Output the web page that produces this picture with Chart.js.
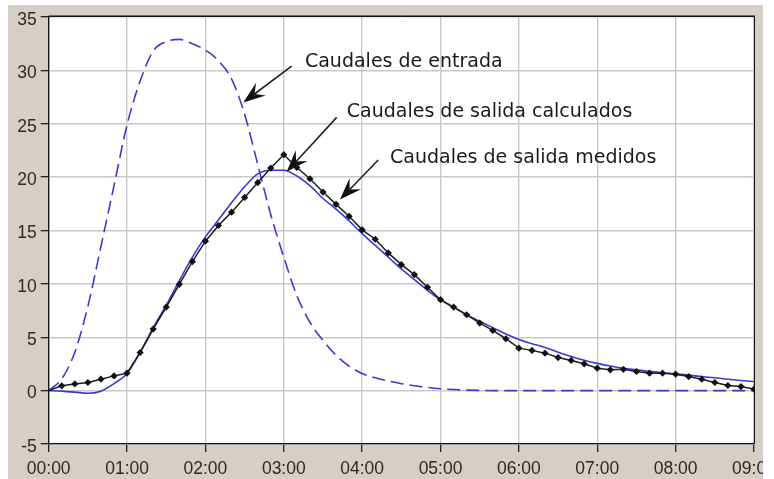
<!DOCTYPE html>
<html>
<head>
<meta charset="utf-8">
<script src="https://cdn.jsdelivr.net/npm/chart.js@4.4.1/dist/chart.umd.min.js"></script>
<style>
  html, body { margin: 0; padding: 0; background: #ffffff; width: 774px; height: 479px; overflow: hidden; }
  #panel { position: absolute; left: 8px; top: 5px; width: 755px; height: 474px; background: #d4d0c8; }
  #c { display: block; }
</style>
</head>
<body>
<div id="panel"><canvas id="c" width="755" height="474"></canvas></div>
<script>
// ---- Data ----
const times = [
  '00:00','00:10','00:20','00:30','00:40','00:50',
  '01:00','01:10','01:20','01:30','01:40','01:50',
  '02:00','02:10','02:20','02:30','02:40','02:50',
  '03:00','03:10','03:20','03:30','03:40','03:50',
  '04:00','04:10','04:20','04:30','04:40','04:50',
  '05:00','05:10','05:20','05:30','05:40','05:50',
  '06:00','06:10','06:20','06:30','06:40','06:50',
  '07:00','07:10','07:20','07:30','07:40','07:50',
  '08:00','08:10','08:20','08:30','08:40','08:50',
  '09:00'
];
const caudalesEntrada = [
  0, 1.1, 3.6, 7.9, 13.5, 19.2,
  24.9, 29.0, 31.8, 32.7, 32.9, 32.5,
  31.9, 30.9, 29.2, 25.9, 21.2, 16.5,
  12.5, 8.9, 6.4, 4.7, 3.3, 2.3,
  1.6, 1.2, 0.9, 0.65, 0.45, 0.3,
  0.18, 0.1, 0.05, 0.02, 0, 0,
  0, 0, 0, 0, 0, 0,
  0, 0, 0, 0, 0, 0,
  0, 0, 0, 0, 0, 0,
  0
];
const caudalesCalculados = [
  0, -0.05, -0.14, -0.25, -0.05, 0.65,
  1.6, 3.6, 5.9, 8.0, 10.3, 12.5,
  14.4, 16.0, 17.6, 19.1, 20.3, 20.65,
  20.65, 20.1, 19.2, 18.0, 17.0, 15.9,
  14.7, 13.6, 12.5, 11.4, 10.4, 9.4,
  8.5, 7.8, 7.1, 6.5, 5.9, 5.3,
  4.8, 4.4, 4.05, 3.6, 3.2, 2.85,
  2.55, 2.3, 2.1, 1.95, 1.8, 1.68,
  1.57, 1.45, 1.32, 1.2, 1.07, 0.95,
  0.85
];
const caudalesMedidos = [
  0, 0.45, 0.63, 0.76, 1.07, 1.38,
  1.64, 3.57, 5.77, 7.83, 9.96, 12.09,
  14.0, 15.47, 16.72, 18.1, 19.48, 20.85,
  22.1, 20.9, 19.85, 18.6, 17.45, 16.33,
  15.06, 14.18, 12.9, 11.8, 10.87, 9.68,
  8.52, 7.83, 7.11, 6.33, 5.64, 4.86,
  3.98, 3.77, 3.51, 3.1, 2.83, 2.51,
  2.1, 1.95, 2.0, 1.79, 1.63, 1.63,
  1.54, 1.32, 1.07, 0.76, 0.48, 0.38,
  0.14
];
const xTickLabels = ['00:00','01:00','02:00','03:00','04:00','05:00','06:00','07:00','08:00','09:00'];
const yTicks = [-5, 0, 5, 10, 15, 20, 25, 30, 35];

// annotations: text position and arrow (tail -> tip) in data units (minutes, value)
const annotationTexts = ['Caudales de entrada', 'Caudales de salida calculados', 'Caudales de salida medidos'];
const annotationTextPos = [[196.2, 30.3], [228.2, 25.6], [261.3, 21.3]];
const arrowTails = [[186.0, 30.4], [220.5, 25.6], [252.3, 21.6]];
const arrowTips  = [[149.0, 27.0], [182.2, 20.5], [223.0, 17.9]];

// ---- helpers ----
function toMinutes(t) { const p = t.split(':'); return parseInt(p[0], 10) * 60 + parseInt(p[1], 10); }
function pts(values) { return times.map((t, i) => ({ x: toMinutes(t), y: values[i] })); }
const xMin = toMinutes(xTickLabels[0]);
const xMax = toMinutes(xTickLabels[xTickLabels.length - 1]);

const frameAndAnnotations = {
  id: 'frameAndAnnotations',
  beforeDraw(chart) {
    const { ctx, chartArea: a } = chart;
    ctx.save();
    ctx.fillStyle = '#ffffff';
    ctx.fillRect(a.left, a.top, a.right - a.left, a.bottom - a.top);
    ctx.restore();
  },
  afterDatasetsDraw(chart) {
    const { ctx, scales } = chart;
    const xs = scales.x, ys = scales.y;
    ctx.save();
    // arrows
    for (let i = 0; i < arrowTips.length; i++) {
      const x0 = xs.getPixelForValue(arrowTails[i][0]);
      const y0 = ys.getPixelForValue(arrowTails[i][1]);
      const x1 = xs.getPixelForValue(arrowTips[i][0]);
      const y1 = ys.getPixelForValue(arrowTips[i][1]);
      const ang = Math.atan2(y1 - y0, x1 - x0);
      const L = 22, W = 8, N = 14;
      ctx.strokeStyle = '#222';
      ctx.lineWidth = 1.6;
      ctx.beginPath();
      ctx.moveTo(x0, y0);
      ctx.lineTo(x1 - Math.cos(ang) * N, y1 - Math.sin(ang) * N);
      ctx.stroke();
      const bx = x1 - Math.cos(ang) * L, by = y1 - Math.sin(ang) * L;
      const nx = -Math.sin(ang), ny = Math.cos(ang);
      ctx.fillStyle = '#111';
      ctx.beginPath();
      ctx.moveTo(x1, y1);
      ctx.lineTo(bx + nx * W, by + ny * W);
      ctx.lineTo(x1 - Math.cos(ang) * N, y1 - Math.sin(ang) * N);
      ctx.lineTo(bx - nx * W, by - ny * W);
      ctx.closePath();
      ctx.fill();
    }
    // texts
    ctx.fillStyle = '#1a1a1a';
    ctx.font = '19px "DejaVu Sans"';
    ctx.textBaseline = 'alphabetic';
    ctx.textAlign = 'left';
    for (let i = 0; i < annotationTexts.length; i++) {
      ctx.fillText(annotationTexts[i], xs.getPixelForValue(annotationTextPos[i][0]), ys.getPixelForValue(annotationTextPos[i][1]));
    }
    ctx.restore();
  },
  afterDraw(chart) {
    const { ctx, chartArea: a } = chart;
    ctx.save();
    ctx.strokeStyle = '#6e6e6e';
    ctx.lineWidth = 1;
    ctx.beginPath();
    ctx.moveTo(a.left, a.top - 1.5);
    ctx.lineTo(a.right + 1, a.top - 1.5);
    ctx.stroke();
    ctx.strokeStyle = '#111';
    ctx.beginPath();
    ctx.moveTo(a.left, a.top - 0.5);
    ctx.lineTo(a.right, a.top - 0.5);
    ctx.moveTo(a.right + 0.5, a.top - 1);
    ctx.lineTo(a.right + 0.5, a.bottom);
    ctx.stroke();
    ctx.restore();
  }
};

new Chart(document.getElementById('c'), {
  type: 'line',
  data: {
    datasets: [
      {
        label: 'Caudales de salida medidos',
        data: pts(caudalesMedidos),
        borderColor: '#1e1e1e',
        backgroundColor: '#111111',
        borderWidth: 1.5,
        tension: 0,
        pointStyle: 'rectRot',
        pointRadius: (c) => (c.dataIndex === 0 ? 0 : 3.6),
        pointBorderWidth: 0,
        pointBackgroundColor: '#111111'
      },
      {
        label: 'Caudales de salida calculados',
        data: pts(caudalesCalculados),
        borderColor: '#3a3ad0',
        borderWidth: 1.6,
        cubicInterpolationMode: 'monotone',
        pointRadius: 0
      },
      {
        label: 'Caudales de entrada',
        data: pts(caudalesEntrada),
        borderColor: '#3a3ad6',
        borderWidth: 1.6,
        borderDash: [13, 6],
        cubicInterpolationMode: 'monotone',
        pointRadius: 0
      }
    ]
  },
  options: {
    responsive: false,
    animation: false,
    events: [],
    layout: { padding: { left: 0, top: 12, right: 9, bottom: 0 } },
    plugins: { legend: { display: false }, tooltip: { enabled: false } },
    scales: {
      x: {
        type: 'linear',
        min: xMin,
        max: xMax,
        afterBuildTicks(scale) {
          scale.ticks = xTickLabels.map((t) => ({ value: toMinutes(t) }));
        },
        afterFit(scale) { scale.height = 35; scale.paddingLeft = 0; scale.paddingRight = 0; },
        grid: { color: '#c8c8c8', lineWidth: 1.4, tickLength: 8, tickColor: '#111', tickWidth: 1.2 },
        border: { color: '#111', width: 1.3 },
        ticks: {
          padding: 7,
          color: '#2a2a2a',
          maxRotation: 0,
          autoSkip: false,
          font: { family: '"Liberation Sans", Arial, sans-serif', size: 17.5 },
          callback: (v) => xTickLabels[xTickLabels.map(toMinutes).indexOf(v)]
        }
      },
      y: {
        type: 'linear',
        min: yTicks[0],
        max: yTicks[yTicks.length - 1],
        afterBuildTicks(scale) {
          scale.ticks = yTicks.map((v) => ({ value: v }));
        },
        afterFit(scale) { scale.width = 40.7; scale.paddingTop = 0; scale.paddingBottom = 0; },
        grid: { color: '#c8c8c8', lineWidth: 1.4, tickLength: 8, tickColor: '#111', tickWidth: 1.2 },
        border: { color: '#111', width: 1.3 },
        ticks: {
          padding: 4,
          labelOffset: 3,
          color: '#2a2a2a',
          autoSkip: false,
          font: { family: '"Liberation Sans", Arial, sans-serif', size: 17.5 },
          callback: (v) => String(v)
        }
      }
    }
  },
  plugins: [frameAndAnnotations]
});
</script>
</body>
</html>
